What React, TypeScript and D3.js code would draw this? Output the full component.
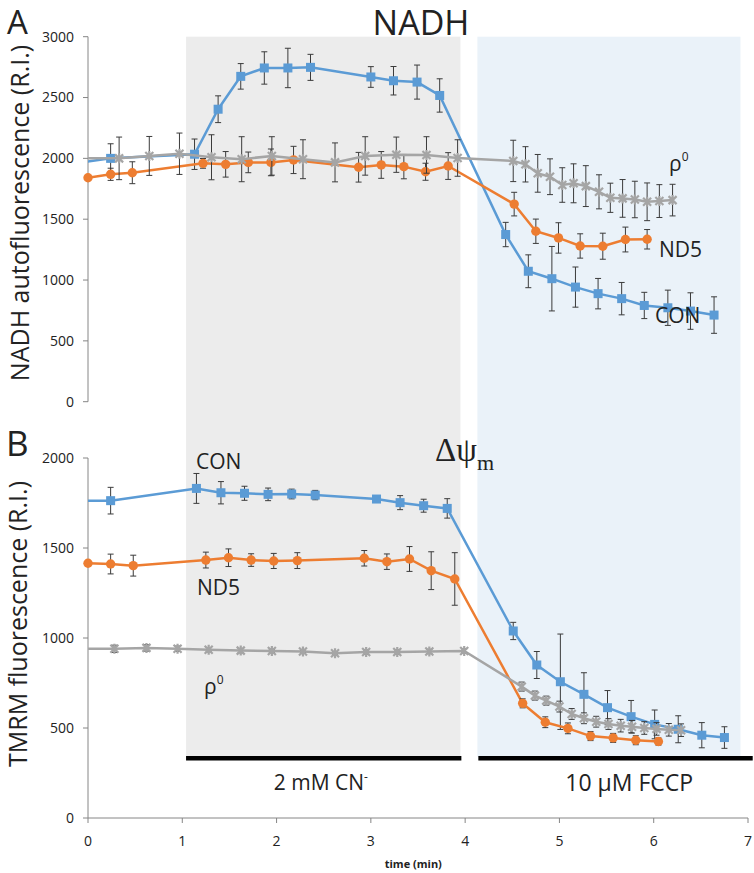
import * as d3 from 'd3';

// time axis ticks
const timeTicks = [0, 1, 2, 3, 4, 5, 6, 7];
const nadhTicks = [0, 500, 1000, 1500, 2000, 2500, 3000];
const tmrmTicks = [0, 500, 1000, 1500, 2000];

// treatment phases (min)
const phaseNames = ['2 mM CN', '10 \u03bcM FCCP'];
const phaseStart = [1.04, 4.13];
const phaseEnd = [3.95, 6.92];
const barStart = [1.04, 4.14];
const barEnd = [3.96, 7.05];
const phaseLabelT = [2.47, 5.74];

// panel A - NADH
const nadhConT = [-0.08, 0.24, 1.13, 1.38, 1.62, 1.87, 2.12, 2.36, 3.0, 3.24, 3.49, 3.73, 4.43, 4.67, 4.92, 5.17, 5.41, 5.66, 5.9, 6.15, 6.39, 6.64];
const nadhConV = [1965, 2000, 2034, 2404, 2674, 2743, 2743, 2748, 2669, 2638, 2627, 2517, 1374, 1072, 1011, 942, 888, 847, 791, 772, 745, 712];
const nadhConE = [0, 120, 125, 110, 105, 133, 162, 107, 85, 117, 140, 137, 100, 135, 265, 165, 125, 133, 108, 145, 150, 150];

const nadhNd5T = [0, 0.24, 0.47, 1.22, 1.46, 1.7, 1.94, 2.18, 2.87, 3.11, 3.35, 3.58, 3.82, 4.52, 4.75, 4.99, 5.22, 5.46, 5.7, 5.93];
const nadhNd5V = [1841, 1869, 1882, 1959, 1951, 1967, 1967, 1987, 1927, 1946, 1932, 1890, 1937, 1624, 1401, 1346, 1280, 1278, 1333, 1335];
const nadhNd5E = [0, 50, 90, 40, 105, 85, 110, 112, 122, 110, 100, 70, 110, 97, 100, 125, 100, 107, 102, 80];

const nadhRhoT = [-0.05, 0.33, 0.65, 0.97, 1.31, 1.63, 1.95, 2.28, 2.62, 2.94, 3.27, 3.59, 3.92, 4.51, 4.64, 4.77, 4.9, 5.03, 5.15, 5.28, 5.42, 5.54, 5.67, 5.8, 5.93, 6.06, 6.2];
const nadhRhoV = [2000, 2000, 2020, 2038, 2009, 1993, 2020, 1993, 1967, 2020, 2030, 2028, 2003, 1979, 1951, 1877, 1849, 1781, 1795, 1772, 1725, 1676, 1671, 1662, 1643, 1649, 1657];
const nadhRhoE = [0, 175, 160, 170, 185, 185, 158, 160, 160, 158, 145, 150, 150, 170, 145, 155, 147, 142, 160, 168, 140, 120, 155, 150, 155, 135, 130];

// panel B - TMRM
const tmrmConT = [-0.08, 0.24, 1.15, 1.41, 1.66, 1.91, 2.16, 2.41, 3.06, 3.31, 3.56, 3.81, 4.51, 4.76, 5.01, 5.26, 5.51, 5.76, 6.01, 6.26, 6.51, 6.75];
const tmrmConV = [1763, 1763, 1831, 1807, 1804, 1798, 1800, 1794, 1772, 1752, 1735, 1720, 1039, 850, 757, 687, 613, 563, 520, 493, 460, 447];
const tmrmConE = [0, 74, 83, 62, 39, 35, 27, 26, 15, 39, 36, 54, 48, 75, 265, 120, 95, 90, 80, 75, 70, 60];

const tmrmNd5T = [0, 0.24, 0.48, 1.25, 1.49, 1.73, 1.97, 2.22, 2.93, 3.17, 3.41, 3.64, 3.89, 4.61, 4.85, 5.09, 5.33, 5.57, 5.81, 6.05];
const tmrmNd5V = [1415, 1411, 1402, 1433, 1446, 1433, 1428, 1430, 1443, 1424, 1439, 1374, 1328, 637, 532, 498, 455, 445, 432, 425];
const tmrmNd5E = [0, 55, 58, 44, 49, 35, 42, 44, 43, 43, 69, 105, 146, 25, 30, 30, 25, 25, 25, 20];

const tmrmRhoT = [-0.05, 0.28, 0.62, 0.95, 1.28, 1.62, 1.95, 2.28, 2.62, 2.95, 3.28, 3.62, 3.99, 4.6, 4.74, 4.86, 5.0, 5.13, 5.26, 5.39, 5.52, 5.65, 5.77, 5.9, 6.03, 6.16, 6.29];
const tmrmRhoV = [940, 940, 945, 940, 935, 930, 928, 925, 915, 922, 922, 925, 928, 730, 680, 652, 619, 578, 554, 535, 522, 513, 507, 500, 495, 490, 488];
const tmrmRhoE = [0, 20, 18, 15, 12, 12, 10, 10, 10, 12, 12, 12, 12, 25, 25, 25, 30, 30, 30, 30, 30, 35, 35, 35, 35, 35, 35];

const BLUE = '#5b9bd5';
const ORANGE = '#ed7d31';
const GRAY = '#a5a5a5';
const AXIS = '#868686';
const FONT = '"Open Sans", sans-serif';

const x = d3.scaleLinear().domain([0, 7]).range([88, 748]);
const yTop = d3.scaleLinear().domain([0, 3000]).range([401.7, 36.7]);
const yBot = d3.scaleLinear().domain([0, 2000]).range([818, 458]);

type Pt = { t: number; v: number; e: number };
const zip = (t: number[], v: number[], e: number[]): Pt[] => t.map((d, i) => ({ t: d, v: v[i], e: e[i] }));

const Series = ({ pts, y, color, marker }: { pts: Pt[]; y: d3.ScaleLinear<number, number>; color: string; marker: string }) => {
  const line = d3.line<Pt>().x(d => x(d.t)).y(d => y(d.v));
  const shown = pts.filter(d => d.t >= 0);
  return (
    <g>
      <path d={line(pts) || ''} fill="none" stroke={color} strokeWidth={2.5} clipPath="url(#plotClip)" />
      {shown.filter(d => d.e > 0).map((d, i) => (
        <g key={'e' + i} stroke="#3b3b3b" strokeWidth={1}>
          <line x1={x(d.t)} x2={x(d.t)} y1={y(d.v + d.e)} y2={y(d.v - d.e)} />
          <line x1={x(d.t) - 3} x2={x(d.t) + 3} y1={y(d.v + d.e)} y2={y(d.v + d.e)} />
          <line x1={x(d.t) - 3} x2={x(d.t) + 3} y1={y(d.v - d.e)} y2={y(d.v - d.e)} />
        </g>
      ))}
      {shown.map((d, i) => {
        const cx = x(d.t), cy = y(d.v);
        if (marker === 'square') return <rect key={i} x={cx - 4.5} y={cy - 4.5} width={9} height={9} fill={color} />;
        if (marker === 'circle') return <circle key={i} cx={cx} cy={cy} r={4.7} fill={color} />;
        return (
          <path key={i} transform={`translate(${cx},${cy})`} d="M-4,-4L4,4M-4,4L4,-4M0,-5L0,5" stroke={color} strokeWidth={2.2} fill="none" />
        );
      })}
    </g>
  );
};

const YAxis = ({ y, ticks }: { y: d3.ScaleLinear<number, number>; ticks: number[] }) => (
  <g>
    <line x1={88} x2={88} y1={y(d3.max(ticks)!)} y2={y(0)} stroke={AXIS} strokeWidth={1} />
    {ticks.map(t => (
      <g key={t}>
        <line x1={83} x2={88} y1={y(t)} y2={y(t)} stroke={AXIS} />
        <text x={74} y={y(t)} dy="0.35em" textAnchor="end" fontSize={14} fontFamily={FONT} fill="#222">{t}</text>
      </g>
    ))}
  </g>
);

export default function App() {
  return (
    <svg width={754} height={873} style={{ display: 'block', position: 'absolute', left: 0, top: 0 }}>
      <defs>
        <clipPath id="plotClip">
          <rect x={88} y={0} width={666} height={873} />
        </clipPath>
      </defs>
      <rect width={754} height={873} fill="#fff" />
      {/* phase shading */}
      <rect x={x(phaseStart[0])} y={36.7} width={x(phaseEnd[0]) - x(phaseStart[0])} height={720} fill="#ececec" />
      <rect x={x(phaseStart[1])} y={36.7} width={x(phaseEnd[1]) - x(phaseStart[1])} height={720} fill="#eaf2f9" />

      {/* panel A */}
      <YAxis y={yTop} ticks={nadhTicks} />
      <Series pts={zip(nadhConT, nadhConV, nadhConE)} y={yTop} color={BLUE} marker="square" />
      <Series pts={zip(nadhNd5T, nadhNd5V, nadhNd5E)} y={yTop} color={ORANGE} marker="circle" />
      <Series pts={zip(nadhRhoT, nadhRhoV, nadhRhoE)} y={yTop} color={GRAY} marker="star" />

      {/* panel B */}
      <YAxis y={yBot} ticks={tmrmTicks} />
      <Series pts={zip(tmrmConT, tmrmConV, tmrmConE)} y={yBot} color={BLUE} marker="square" />
      <Series pts={zip(tmrmNd5T, tmrmNd5V, tmrmNd5E)} y={yBot} color={ORANGE} marker="circle" />
      <Series pts={zip(tmrmRhoT, tmrmRhoV, tmrmRhoE)} y={yBot} color={GRAY} marker="star" />

      {/* time axis */}
      <line x1={x(0)} x2={x(7)} y1={818} y2={818} stroke={AXIS} />
      {timeTicks.map(t => (
        <g key={t}>
          <line x1={x(t)} x2={x(t)} y1={818} y2={823} stroke={AXIS} />
          <text x={x(t)} y={841} dy="0.35em" textAnchor="middle" fontSize={14} fontFamily={FONT} fill="#222">{t}</text>
        </g>
      ))}
      <text x={x(3.45)} y={864} dy="0.35em" textAnchor="middle" fontSize={11} fontWeight="bold" fontFamily={FONT} fill="#222">time (min)</text>

      {/* treatment bars */}
      {phaseNames.map((n, i) => (
        <g key={n}>
          <rect x={x(barStart[i])} y={756} width={x(barEnd[i]) - x(barStart[i])} height={4.5} fill="#000" />
          <text x={x(phaseLabelT[i])} y={783} dy="0.35em" textAnchor="middle" fontSize={i === 0 ? 21 : 23} fontFamily={FONT} fill="#222">
            {n}
            {i === 0 && <tspan fontSize={12} dy="-0.8em">-</tspan>}
          </text>
        </g>
      ))}

      {/* titles */}
      <text x={7} y={34} fontSize={33} fontFamily={FONT} fill="#222">A</text>
      <text x={421} y={35} textAnchor="middle" fontSize={34} fontFamily={FONT} fill="#222">NADH</text>
      <text x={6} y={456} fontSize={35} fontFamily={FONT} fill="#222">B</text>
      <text x={435} y={461} fontSize={33} fontFamily='"Liberation Serif", serif' fill="#222">
        {'\u0394\u03c8'}<tspan fontSize={22} dy="9">m</tspan>
      </text>

      {/* y titles */}
      <text transform="translate(29,213) rotate(-90)" textAnchor="middle" fontSize={25} fontFamily={FONT} fill="#222">NADH autofluorescence (R.I.)</text>
      <text transform="translate(27,624) rotate(-90)" textAnchor="middle" fontSize={25} fontFamily={FONT} fill="#222">TMRM fluorescence (R.I.)</text>

      {/* series labels */}
      <text x={669} y={171} fontSize={21} fontFamily={FONT} fill="#222">{'\u03c1'}<tspan fontSize={12} dy="-10">0</tspan></text>
      <text x={659} y={257} fontSize={21} fontFamily={FONT} fill="#222">ND5</text>
      <text x={655} y={323} fontSize={21} fontFamily={FONT} fill="#222">CON</text>
      <text x={196} y={469} fontSize={21} fontFamily={FONT} fill="#222">CON</text>
      <text x={197} y={595} fontSize={21} fontFamily={FONT} fill="#222">ND5</text>
      <text x={204} y={694} fontSize={21} fontFamily={FONT} fill="#222">{'\u03c1'}<tspan fontSize={12} dy="-10">0</tspan></text>
    </svg>
  );
}
